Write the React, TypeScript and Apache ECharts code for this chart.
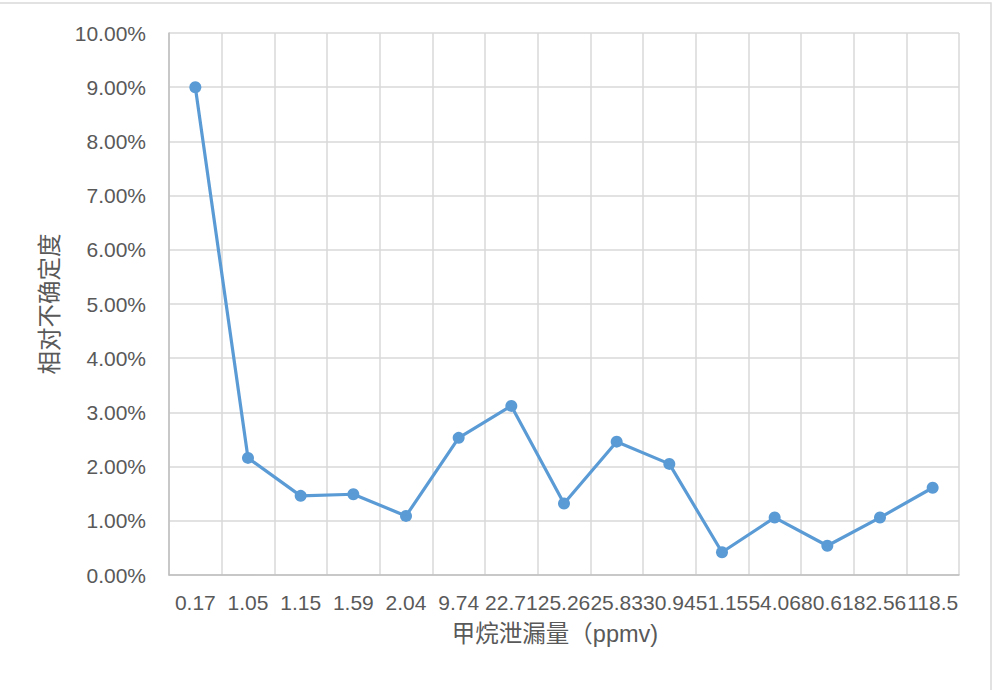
import React, { useEffect, useRef } from "react";
import * as echarts from "echarts";

// Methane leak concentration categories (ppmv)
const leakLevels: string[] = [
  "0.17", "1.05", "1.15", "1.59", "2.04", "9.74", "22.71", "25.26",
  "25.83", "30.94", "51.15", "54.06", "80.61", "82.56", "118.5",
];

// Relative uncertainty, in percent
const relUncertainty: number[] = [
  9.0, 2.16, 1.46, 1.49, 1.09, 2.53, 3.12, 1.32,
  2.46, 2.05, 0.42, 1.06, 0.54, 1.06, 1.61,
];

const yTicks = { min: 0, max: 10, interval: 1 };

const latinFont = '"Liberation Sans", Arial, Helvetica, sans-serif';
const cjkFont = '"Liberation Sans", "Noto Sans CJK SC", sans-serif';
const textColor = "#595959";
const gridColor = "#d9d9d9";
const axisColor = "#bfbfbf";
const lineColor = "#5b9bd5";

export default function App() {
  const ref = useRef<HTMLDivElement>(null);

  useEffect(() => {
    if (!ref.current) return;
    const chart = echarts.init(ref.current, undefined, { renderer: "svg" });
    chart.setOption({
      animation: false,
      backgroundColor: "#ffffff",
      grid: { left: 169, top: 33, right: 33, bottom: 115, containLabel: false },
      graphic: [
        {
          type: "polyline",
          shape: { points: [[0, 3], [991, 3], [991, 690]] },
          style: { stroke: gridColor, lineWidth: 1.5, fill: "none" },
          silent: true,
        },
      ],
      xAxis: {
        type: "category",
        data: leakLevels,
        boundaryGap: true,
        name: "甲烷泄漏量（ppmv)",
        nameLocation: "middle",
        nameGap: 47,
        nameTextStyle: {
          fontFamily: cjkFont,
          fontSize: 23.5,
          color: textColor,
          padding: [0, 18, 0, 0],
        },
        axisLine: { show: true, lineStyle: { color: axisColor, width: 1.5 } },
        axisTick: { show: false },
        axisLabel: {
          interval: 0,
          margin: 17,
          fontFamily: latinFont,
          fontSize: 21,
          color: textColor,
        },
        splitLine: { show: true, interval: 0, lineStyle: { color: gridColor, width: 1.5 } },
      },
      yAxis: {
        type: "value",
        min: yTicks.min,
        max: yTicks.max,
        interval: yTicks.interval,
        name: "相对不确定度",
        nameLocation: "middle",
        nameGap: 107,
        nameTextStyle: { fontFamily: cjkFont, fontSize: 23.5, color: textColor },
        axisLine: { show: true, lineStyle: { color: axisColor, width: 1.5 } },
        axisTick: { show: false },
        axisLabel: {
          margin: 23,
          fontFamily: latinFont,
          fontSize: 21,
          color: textColor,
          formatter: (v: number) => v.toFixed(2) + "%",
        },
        splitLine: { show: true, lineStyle: { color: gridColor, width: 1.5 } },
      },
      series: [
        {
          type: "line",
          data: relUncertainty,
          symbol: "circle",
          symbolSize: 12,
          showAllSymbol: true,
          lineStyle: { color: lineColor, width: 3.2 },
          itemStyle: { color: lineColor },
        },
      ],
    });
    return () => chart.dispose();
  }, []);

  return (
    <div
      ref={ref}
      style={{ position: "fixed", left: 0, top: 0, width: 992, height: 690 }}
    />
  );
}
